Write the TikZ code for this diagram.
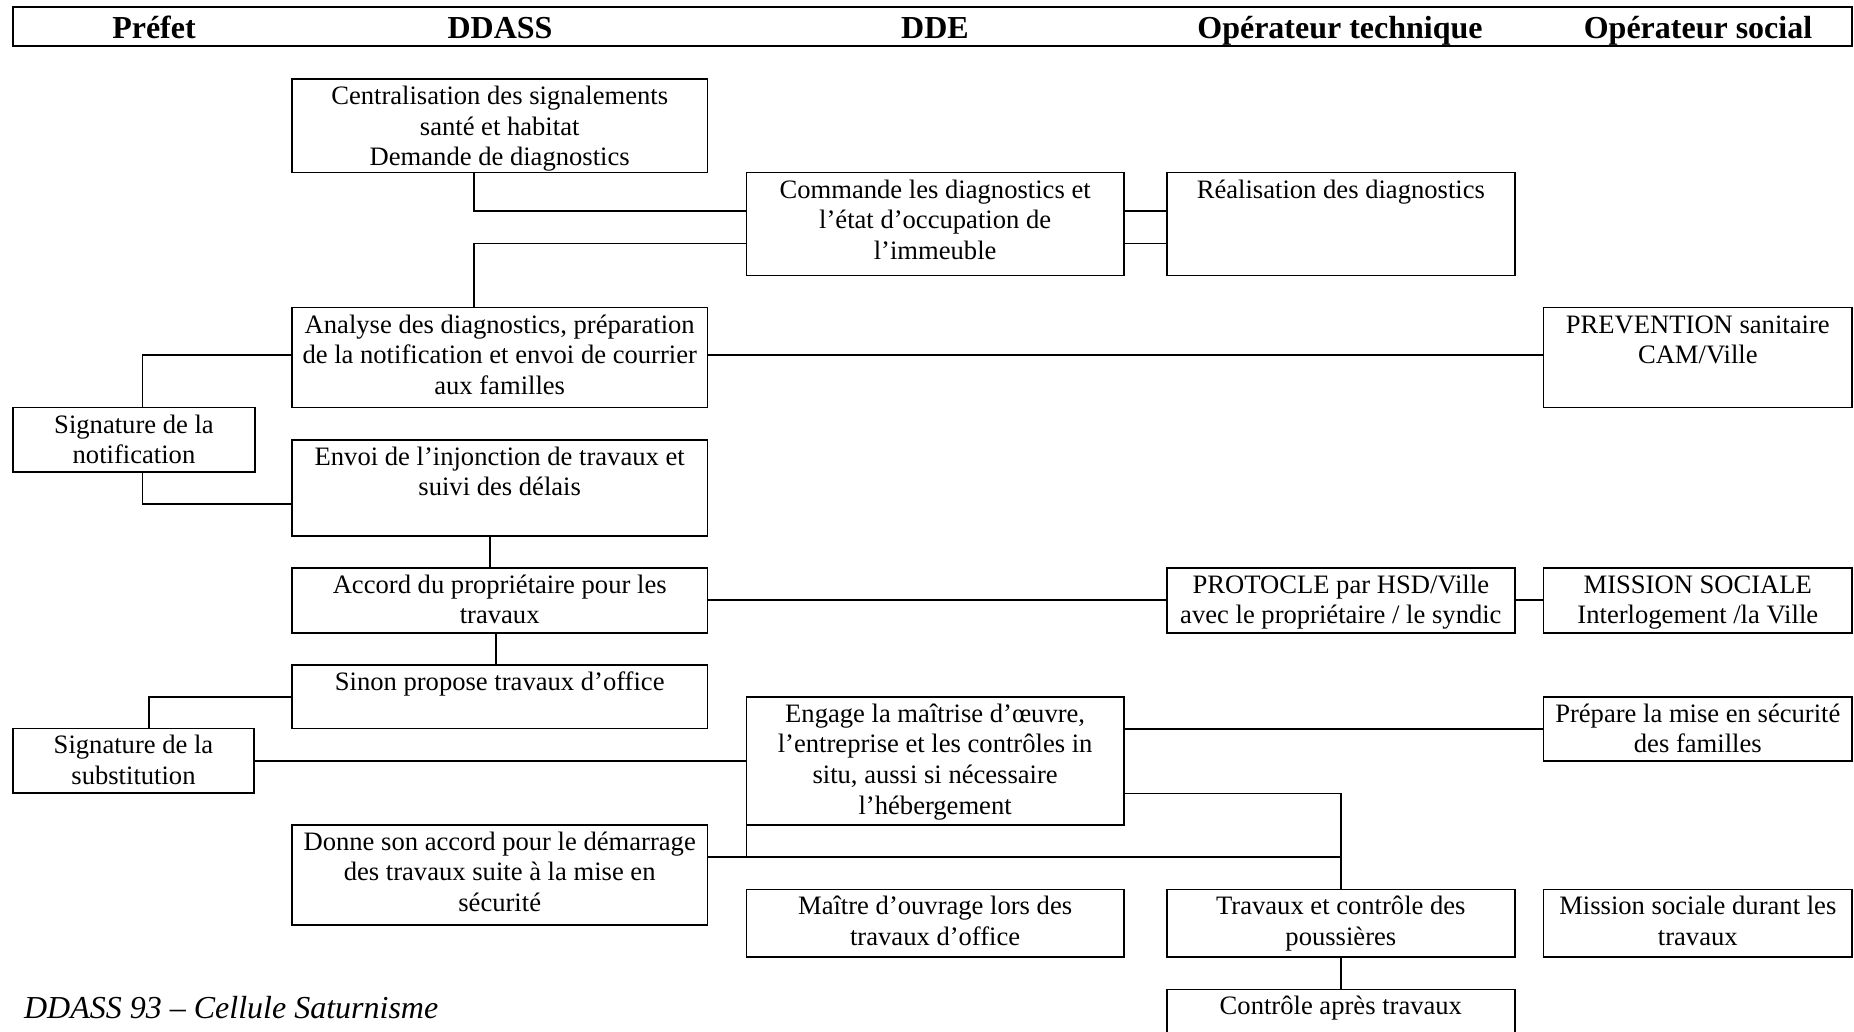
\documentclass[tikz,border=0pt]{standalone}
\usepackage{fontspec}
\setmainfont{Liberation Serif}
\usetikzlibrary{calc}
\tikzset{
  boxst/.style={draw, line width=0.8pt, inner sep=0pt, outer sep=0pt},
  txtst/.style={inner sep=0pt, align=center, font=\fontsize{13.3}{15.35}\selectfont},
  hdrst/.style={inner sep=0pt, anchor=base, font=\bfseries\fontsize{16}{19}\selectfont},
  conn/.style={line width=0.8pt},
}
% #1 name, #2 x1, #3 y1, #4 x2, #5 y2, #6 text
\newcommand\flowbox[6]{%
  \node[boxst, minimum width={(#4-#2)*0.5pt}, minimum height={(#5-#3)*0.5pt}, anchor=north west] (#1) at (#2,#3) {};
  \node[txtst, anchor=north] (#1t) at ($(#1.north)+(0,3.6)$) {\strut #6};
}
\begin{document}
\begin{tikzpicture}[x=0.5pt,y=-0.5pt]
\useasboundingbox (0,0) rectangle (1854,1032);
\begin{scope}
\clip (0,0) rectangle (1854,1032);
% header
\node[boxst, minimum width={(1852-13)*0.5pt}, minimum height={(46-7)*0.5pt}, anchor=north west] (hdrframe) at (13,7) {};
\node[hdrst] (hPref) at (154,39) {Préfet};
\node[hdrst] (hDdass) at (500,39) {DDASS};
\node[hdrst] (hDde) at (935,39) {DDE};
\node[hdrst] (hOpt) at (1340,39) {Opérateur technique};
\node[hdrst] (hOps) at (1698,39) {Opérateur social};

% boxes
\flowbox{cent}{291.8}{79}{707.6}{172.7}{Centralisation des signalements\\santé et habitat\\Demande de diagnostics}
\flowbox{cmd}{746.5}{172.7}{1123.8}{275.7}{Commande les diagnostics et\\l’état d’occupation de\\l’immeuble}
\flowbox{real}{1166.7}{172.7}{1515}{275.7}{Réalisation des diagnostics}
\flowbox{ana}{291.8}{307.7}{707.6}{407.7}{Analyse des diagnostics, préparation\\de la notification et envoi de courrier\\aux familles}
\flowbox{prev}{1543.6}{307.7}{1852}{407.7}{PREVENTION sanitaire\\CAM/Ville}
\flowbox{signot}{13}{407.7}{255}{472}{Signature de la\\notification}
\flowbox{envoi}{291.8}{439.7}{707.6}{535.7}{Envoi de l’injonction de travaux et\\suivi des délais}
\flowbox{accord}{291.8}{567.7}{707.6}{632.7}{Accord du propriétaire pour les\\travaux}
\flowbox{proto}{1166.7}{567.7}{1515}{632.7}{PROTOCLE par HSD/Ville\\avec le propriétaire / le syndic}
\flowbox{mission}{1543.6}{567.7}{1852}{632.7}{MISSION SOCIALE\\Interlogement /la Ville}
\flowbox{sinon}{291.8}{664.7}{707.6}{728.3}{Sinon propose travaux d’office}
\flowbox{engage}{746.5}{696.7}{1123.8}{825}{Engage la maîtrise d’œuvre,\\l’entreprise et les contrôles in\\situ, aussi si nécessaire\\l’hébergement}
\flowbox{prep}{1543.6}{696.7}{1852}{760.7}{Prépare la mise en sécurité\\des familles}
\flowbox{sigsub}{13}{728.3}{254}{793}{Signature de la\\substitution}
\flowbox{donne}{291.8}{824.7}{707.6}{924.7}{Donne son accord pour le démarrage\\des travaux suite à la mise en\\sécurité}
\flowbox{maitre}{746.5}{889.3}{1123.8}{956.7}{Maître d’ouvrage lors des\\travaux d’office}
\flowbox{trav}{1166.7}{889.3}{1515}{956.7}{Travaux et contrôle des\\poussières}
\flowbox{msd}{1543.6}{889.3}{1852}{956.7}{Mission sociale durant les\\travaux}
\flowbox{ctrl}{1166.7}{989.3}{1515}{1060}{Contrôle après travaux}

% junction coordinates
\coordinate (ja) at (474,211.3);
\coordinate (jb) at (474,243.7);
\coordinate (je) at (142.3,355);
\coordinate (jf) at (142.3,503.7);
\coordinate (jg) at (490,550);
\coordinate (jh) at (1000,599.7);
\coordinate (jj) at (495.8,650);
\coordinate (jk) at (148.9,696.7);
\coordinate (jl) at (500,760.7);
\coordinate (jm) at (1300,729);
\coordinate (jn) at (1200,793.3);
\coordinate (jy) at (1000,856.7);

% connectors
\draw[conn] (cent.south -| ja) |- (cmd.west |- ja);
\draw[conn] (cmd.west |- jb) -| (ana.north -| jb);
\draw[conn] (cmd.east |- ja) -- (real.west |- ja);
\draw[conn] (cmd.east |- jb) -- (real.west |- jb);
\draw[conn] (ana.east |- je) -- (prev.west |- je);
\draw[conn] (ana.west |- je) -| (signot.north -| je);
\draw[conn] (signot.south -| jf) |- (envoi.west |- jf);
\draw[conn] (envoi.south -| jg) -- (accord.north -| jg);
\draw[conn] (accord.east |- jh) -- (proto.west |- jh);
\draw[conn] (proto.east |- jh) -- (mission.west |- jh);
\draw[conn] (accord.south -| jj) -- (sinon.north -| jj);
\draw[conn] (sinon.west |- jk) -| (sigsub.north -| jk);
\draw[conn] (sigsub.east |- jl) -- (engage.west |- jl);
\draw[conn] (engage.east |- jm) -- (prep.west |- jm);
\draw[conn] (engage.east |- jn) -| (trav.north);
\draw[conn] (donne.east |- jy) -- (trav.north |- jy);
\draw[conn] (engage.south west) -- (engage.south west |- jy);
\draw[conn] (trav.south) -- (ctrl.north);

% footer
\node[anchor=base west, inner sep=0pt, font=\itshape\fontsize{16}{19}\selectfont] (footer) at (23.7,1018.3) {DDASS 93 – Cellule Saturnisme};
\end{scope}
\end{tikzpicture}
\end{document}
